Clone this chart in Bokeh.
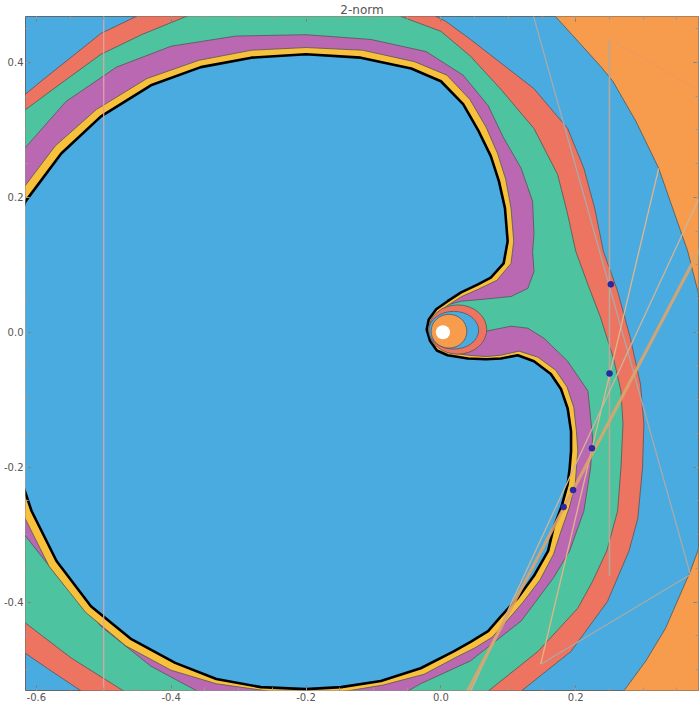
from bokeh.plotting import figure
from bokeh.models import Range1d, LinearAxis, NumeralTickFormatter, FixedTicker, CustomJSTickFormatter
from bokeh.embed import file_html
from bokeh.resources import INLINE

# ---- contour band boundaries (data coordinates) ----
# orange / outer-blue boundary (orange lies to the right of it)
orange_x = [0.119, 0.170, 0.237, 0.255, 0.289, 0.323, 0.366, 0.381, 0.400, 0.407, 0.397, 0.381, 0.370, 0.333, 0.304, 0.271, 0.244, 0.5, 0.5]
orange_y = [0.520, 0.468, 0.394, 0.372, 0.313, 0.243, 0.120, 0.061, -0.028, -0.132, -0.250, -0.324, -0.354, -0.439, -0.487, -0.532, -0.576, -0.6, 0.55]

# outer-blue / red boundary
red_x = [-0.741, -0.704, -0.616, -0.593, -0.504, -0.452, -0.356, -0.200, -0.037, 0.007, 0.044, 0.089, 0.138, 0.188, 0.212, 0.228, 0.241, 0.262, 0.281, 0.296, 0.301, 0.299, 0.292, 0.279, 0.247, 0.193, 0.119, 0.030, -0.133, -0.311, -0.444, -0.533, -0.578, -0.616, -0.681, -0.733]
red_y = [0.046, 0.239, 0.353, 0.372, 0.443, 0.468, 0.505, 0.520, 0.483, 0.461, 0.434, 0.399, 0.361, 0.302, 0.243, 0.184, 0.120, 0.061, -0.009, -0.077, -0.136, -0.201, -0.276, -0.324, -0.399, -0.473, -0.532, -0.606, -0.643, -0.636, -0.591, -0.532, -0.502, -0.476, -0.413, -0.176]

# red / green boundary
green_x = [-0.711, -0.681, -0.616, -0.559, -0.504, -0.444, -0.378, -0.311, -0.200, -0.089, -0.059, 0.000, 0.044, 0.089, 0.138, 0.173, 0.187, 0.200, 0.219, 0.237, 0.256, 0.267, 0.270, 0.267, 0.262, 0.246, 0.225, 0.203, 0.144, 0.070, 0.000, -0.133, -0.281, -0.400, -0.470, -0.548, -0.616, -0.667, -0.704]
green_y = [0.046, 0.224, 0.330, 0.372, 0.412, 0.441, 0.468, 0.486, 0.498, 0.487, 0.468, 0.446, 0.409, 0.360, 0.302, 0.234, 0.179, 0.120, 0.068, 0.021, -0.039, -0.087, -0.136, -0.201, -0.265, -0.324, -0.369, -0.409, -0.473, -0.532, -0.576, -0.606, -0.599, -0.569, -0.532, -0.483, -0.431, -0.376, -0.176]

# green / purple boundary
purple_x = [-0.689, -0.670, -0.616, -0.556, -0.481, -0.400, -0.304, -0.200, -0.104, -0.022, 0.033, 0.070, 0.092, 0.119, 0.136, 0.138, 0.136, 0.138, 0.129, 0.104, 0.064, 0.030, 0.004, -0.010, -0.015, -0.010, 0.007, 0.037, 0.064, 0.104, 0.129, 0.153, 0.188, 0.218, 0.225, 0.222, 0.212, 0.191, 0.167, 0.119, 0.044, -0.030, -0.067, -0.133, -0.207, -0.296, -0.361, -0.430, -0.504, -0.563, -0.616, -0.667, -0.689]
purple_y = [0.001, 0.164, 0.274, 0.342, 0.393, 0.424, 0.439, 0.441, 0.434, 0.416, 0.381, 0.336, 0.290, 0.243, 0.194, 0.145, 0.120, 0.090, 0.065, 0.053, 0.049, 0.046, 0.039, 0.025, 0.004, -0.015, -0.025, -0.016, 0.001, 0.009, 0.006, -0.009, -0.043, -0.087, -0.157, -0.201, -0.265, -0.324, -0.364, -0.428, -0.487, -0.521, -0.542, -0.559, -0.564, -0.554, -0.532, -0.495, -0.436, -0.369, -0.302, -0.206, -0.102]

# purple / yellow boundary
yellow_x = [-0.649, -0.625, -0.572, -0.511, -0.436, -0.359, -0.281, -0.200, -0.116, -0.039, 0.009, 0.043, 0.067, 0.084, 0.096, 0.104, 0.108, 0.104, 0.083, 0.056, 0.031, 0.012, -0.004, -0.015, -0.016, -0.013, -0.003, 0.012, 0.040, 0.067, 0.089, 0.116, 0.144, 0.170, 0.187, 0.197, 0.201, 0.203, 0.201, 0.199, 0.190, 0.178, 0.167, 0.147, 0.121, 0.096, 0.076, 0.050, 0.024, -0.025, -0.086, -0.141, -0.200, -0.255, -0.333, -0.400, -0.467, -0.527, -0.581, -0.619, -0.647, -0.658]
yellow_y = [0.138, 0.206, 0.276, 0.330, 0.376, 0.403, 0.418, 0.422, 0.418, 0.401, 0.381, 0.345, 0.304, 0.265, 0.227, 0.184, 0.135, 0.102, 0.077, 0.064, 0.053, 0.041, 0.030, 0.016, 0.004, -0.010, -0.022, -0.030, -0.034, -0.036, -0.034, -0.028, -0.037, -0.056, -0.081, -0.111, -0.147, -0.176, -0.201, -0.227, -0.261, -0.295, -0.329, -0.367, -0.401, -0.430, -0.452, -0.468, -0.481, -0.507, -0.523, -0.532, -0.538, -0.532, -0.521, -0.501, -0.465, -0.415, -0.347, -0.271, -0.179, -0.028]

# black level curve (inner blue region)
inner_x = [-0.637, -0.616, -0.563, -0.504, -0.430, -0.356, -0.281, -0.200, -0.119, -0.044, 0.000, 0.033, 0.056, 0.074, 0.086, 0.095, 0.099, 0.093, 0.074, 0.055, 0.030, 0.010, -0.007, -0.018, -0.021, -0.016, -0.006, 0.010, 0.040, 0.067, 0.089, 0.114, 0.138, 0.163, 0.178, 0.188, 0.193, 0.193, 0.191, 0.188, 0.179, 0.167, 0.159, 0.138, 0.114, 0.089, 0.070, 0.044, 0.019, -0.030, -0.089, -0.148, -0.200, -0.267, -0.333, -0.394, -0.459, -0.519, -0.570, -0.607, -0.637, -0.647]
inner_y = [0.135, 0.194, 0.265, 0.320, 0.366, 0.393, 0.407, 0.412, 0.407, 0.391, 0.372, 0.338, 0.298, 0.261, 0.224, 0.184, 0.135, 0.102, 0.081, 0.071, 0.059, 0.046, 0.034, 0.019, 0.004, -0.013, -0.027, -0.034, -0.039, -0.040, -0.039, -0.034, -0.043, -0.062, -0.084, -0.113, -0.147, -0.176, -0.201, -0.225, -0.258, -0.290, -0.324, -0.361, -0.394, -0.421, -0.443, -0.459, -0.473, -0.498, -0.517, -0.526, -0.529, -0.526, -0.514, -0.490, -0.455, -0.406, -0.339, -0.265, -0.176, -0.028]

# nested level sets round the origin (centre, width, height)
ell_x = [0.025, 0.019, 0.012, 0.003]
ell_y = [0.004, 0.003, 0.0015, 0.0]
ell_w = [0.086, 0.074, 0.053, 0.021]
ell_h = [0.073, 0.056, 0.050, 0.021]

# overlay lines
vline1_x = [-0.5, -0.5]
vline1_y = [-0.6, 0.6]
vline2_x = [0.250, 0.250]
vline2_y = [0.434, -0.361]
gray_x = [0.127, 0.370, 0.148]
gray_y = [0.505, -0.359, -0.492]
tan1_x = [0.148, 0.323]
tan1_y = [-0.492, 0.243]
tan2_x = [0.382, 0.044]
tan2_y = [0.197, -0.532]
thick_x = [0.030, 0.400]
thick_y = [-0.550, 0.154]
faint_x = [0.256, 0.390]
faint_y = [0.431, 0.355]

# points
pt_x = [0.252, 0.250, 0.224, 0.196, 0.182]
pt_y = [0.071, -0.061, -0.172, -0.234, -0.259]

# tick values
x_major = [-0.6, -0.4, -0.2, 0.0, 0.2]
x_minor = [-0.6, -0.55, -0.5, -0.45, -0.4, -0.35, -0.3, -0.25, -0.2, -0.15, -0.1, -0.05,
           0.0, 0.05, 0.1, 0.15, 0.2, 0.25, 0.3, 0.35]
y_major = [-0.4, -0.2, 0.0, 0.2, 0.4]
y_minor = [-0.5, -0.45, -0.4, -0.35, -0.3, -0.25, -0.2, -0.15, -0.1, -0.05, 0.0,
           0.05, 0.1, 0.15, 0.2, 0.25, 0.3, 0.35, 0.4, 0.45]

BLUE = "#4aabe0"
ORANGE = "#f69c4c"
GREEN = "#4ec39f"
RED = "#ec7461"
PURPLE = "#bb68b2"
YELLOW = "#f8c13c"
EDGE = "#555555"

p = figure(width=700, height=707, output_backend="svg", toolbar_location=None,
           x_range=Range1d(-0.616, 0.382), y_range=Range1d(-0.531, 0.468),
           min_border_left=24, min_border_right=2, min_border_top=0, min_border_bottom=17,
           background_fill_color=BLUE, border_fill_color="white")

p.title.text = "2-norm"
p.title.align = "center"
p.title.text_font = "DejaVu Sans"
p.title.text_font_size = "12px"
p.title.text_font_style = "normal"
p.title.text_color = "#555555"
p.title.standoff = 0

p.grid.visible = False
p.outline_line_color = "#666666"
p.outline_line_width = 1


def style(ax, major, minor, labels=True):
    ax.ticker = FixedTicker(ticks=major, minor_ticks=minor)
    if labels:
        ax.formatter = NumeralTickFormatter(format="0.0")
        ax.major_label_text_font = "DejaVu Sans"
        ax.major_label_text_font_size = "10px"
        ax.major_label_text_color = "#555555"
        ax.major_label_standoff = 2
    else:
        ax.formatter = CustomJSTickFormatter(code="return ''")
        ax.major_label_standoff = 0
    ax.axis_line_color = None
    ax.major_tick_in = 5
    ax.major_tick_out = 0
    ax.minor_tick_in = 3
    ax.minor_tick_out = 0
    ax.major_tick_line_color = "#777777"
    ax.minor_tick_line_color = "#999999"


style(p.xaxis[0], x_major, x_minor)
style(p.yaxis[0], y_major, y_minor)
top = LinearAxis()
right = LinearAxis()
style(top, x_major, x_minor, labels=False)
style(right, y_major, y_minor, labels=False)
p.add_layout(top, "above")
p.add_layout(right, "right")

lw = 0.8
p.patch(orange_x, orange_y, fill_color=ORANGE, line_color=EDGE, line_width=lw)
p.patch(red_x, red_y, fill_color=RED, line_color=EDGE, line_width=lw)
p.patch(green_x, green_y, fill_color=GREEN, line_color=EDGE, line_width=lw)
p.patch(purple_x, purple_y, fill_color=PURPLE, line_color=EDGE, line_width=lw)
p.patch(yellow_x, yellow_y, fill_color=YELLOW, line_color=EDGE, line_width=lw)
p.patch(inner_x, inner_y, fill_color=BLUE, line_color=None)
p.line(inner_x + inner_x[:1], inner_y + inner_y[:1], line_color="black", line_width=2.6)

ell_cols = [RED, BLUE, ORANGE, "white"]
ell_lines = [EDGE, EDGE, EDGE, None]
for i in range(len(ell_x)):
    p.ellipse(x=[ell_x[i]], y=[ell_y[i]], width=[ell_w[i]], height=[ell_h[i]],
              fill_color=ell_cols[i], line_color=ell_lines[i], line_width=lw)

p.line(vline1_x, vline1_y, line_color="#e3a4ab", line_width=1.2)
p.line(faint_x, faint_y, line_color="#e89a62", line_width=1.2, line_alpha=0.7)
p.line(vline2_x, vline2_y, line_color="#b7a89a", line_width=1.6)
p.line(gray_x, gray_y, line_color="#a9a9a9", line_width=1.3)
p.line(tan1_x, tan1_y, line_color="#e2b58a", line_width=1.3)
p.line(tan2_x, tan2_y, line_color="#cdb49a", line_width=1.3)
p.line(thick_x, thick_y, line_color="#dda46c", line_width=3.2, line_alpha=0.9)
p.scatter(pt_x, pt_y, size=6, fill_color="#2a2aa8", line_color="#1a1a80", line_width=0.5)

open("out.html", "w").write(file_html(p, INLINE))
